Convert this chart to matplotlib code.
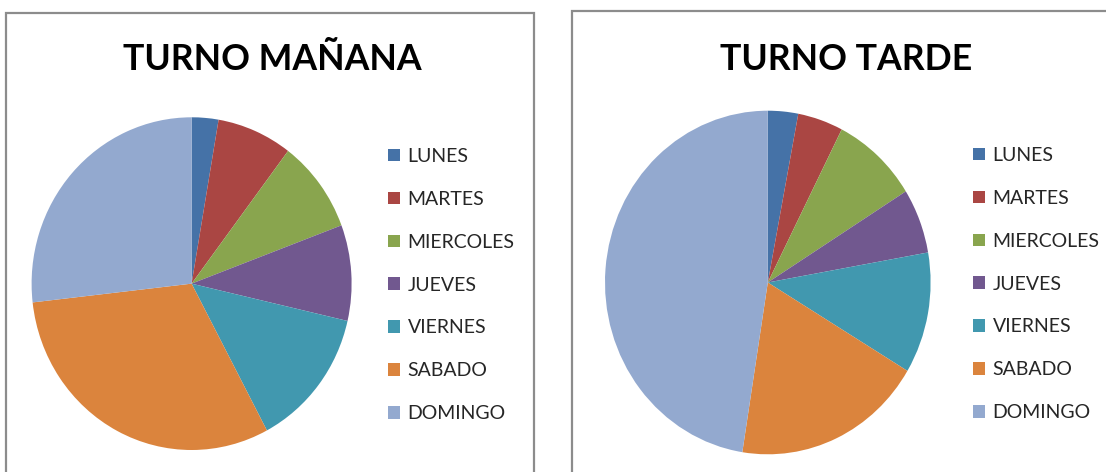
import matplotlib.pyplot as plt
from matplotlib.patches import Rectangle

dias = ['LUNES', 'MARTES', 'MIERCOLES', 'JUEVES', 'VIERNES', 'SABADO', 'DOMINGO']
manana = [2.7, 7.6, 9.0, 9.3, 13.6, 31.0, 26.8]
tarde = [3.0, 4.5, 8.6, 6.1, 11.4, 18.9, 47.5]
colores = ['#4572A7', '#AA4643', '#89A54E', '#71588F', '#4198AF', '#DB843D', '#93A9CF']

W, H = 1106, 472
plt.rcParams['font.family'] = ['Lato', 'DejaVu Sans']


def px_box(x0, y0, x1, y1):
	# pixel box (top-left origin) -> figure fraction
	return [x0 / W, 1 - y1 / H, (x1 - x0) / W, (y1 - y0) / H]


def panel(fig, box, frame, titulo, tpos, valores, leg_xy):
	fig.patches.append(Rectangle((frame[0] / W, 1 - frame[3] / H),
		(frame[2] - frame[0]) / W, (frame[3] - frame[1]) / H,
		transform=fig.transFigure, fill=False, edgecolor='#8c8c8c', linewidth=1.6))
	ax = fig.add_axes(px_box(*box))
	wedges, _ = ax.pie(valores, colors=colores, startangle=90, counterclock=False,
		wedgeprops=dict(linewidth=0))
	ax.set_aspect('auto')
	ax.set_xlim(-1, 1)
	ax.set_ylim(-1, 1)
	ax.axis('off')
	fig.text(tpos[0] / W, 1 - tpos[1] / H, titulo, ha='center', va='center',
		fontsize=25.7, fontweight='bold', color='black')
	fig.legend(wedges, dias, loc='upper left',
		bbox_to_anchor=(leg_xy[0] / W, 1 - leg_xy[1] / H),
		frameon=False, fontsize=14, handlelength=0.62, handleheight=0.62,
		handletextpad=0.38, labelspacing=1.33, borderpad=0, borderaxespad=0,
		labelcolor='#262626')


fig = plt.figure(figsize=(W / 100, H / 100), dpi=100)
panel(fig, (31.6, 117.3, 351.6, 450), (6, 13, 534, 490), 'TURNO MAÑANA',
	(272, 60), manana, (388, 148))
panel(fig, (605, 110.7, 930.6, 454.3), (572, 11.5, 1120, 490), 'TURNO TARDE',
	(846, 59), tarde, (973, 147))
fig.savefig('out.png', dpi=100)
